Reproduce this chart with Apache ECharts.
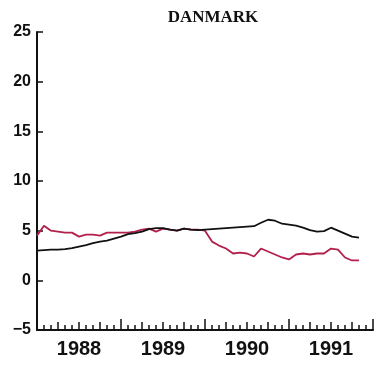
<!DOCTYPE html>
<html>
<head>
<meta charset="utf-8">
<script src="https://cdn.jsdelivr.net/npm/echarts@6/dist/echarts.min.js"></script>
<style>
html, body { margin: 0; padding: 0; background: #fff; }
#chart { width: 376px; height: 367px; }
</style>
</head>
<body>
<div id="chart"></div>
<script>
// Monthly series, January 1988 = month 0
const startYear = 1988;
const yearLabels = ['1988', '1989', '1990', '1991'];
const yTicks = [-5, 0, 5, 10, 15, 20, 25];

const redSeries = [
  4.5, 5.5, 5.0, 4.9, 4.8, 4.8, 4.4, 4.6, 4.6, 4.5, 4.8, 4.8,
  4.8, 4.8, 4.9, 5.1, 5.2, 4.9, 5.2, 5.1, 5.0, 5.2, 5.1, 5.1,
  5.0, 3.9, 3.5, 3.2, 2.7, 2.8, 2.7, 2.4, 3.2, 2.9, 2.6, 2.3,
  2.1, 2.6, 2.7, 2.6, 2.7, 2.7, 3.2, 3.1, 2.3, 2.0, 2.0
];
const blackSeries = [
  3.0, 3.05, 3.1, 3.1, 3.15, 3.25, 3.4, 3.55, 3.75, 3.9, 4.0, 4.2,
  4.4, 4.65, 4.75, 4.9, 5.15, 5.25, 5.25, 5.1, 5.0, 5.2, 5.1, 5.05,
  5.1, 5.15, 5.2, 5.25, 5.3, 5.35, 5.4, 5.45, 5.8, 6.1, 6.0, 5.7,
  5.6, 5.5, 5.3, 5.05, 4.9, 4.95, 5.3, 5.0, 4.7, 4.4, 4.3
];

const toPairs = arr => arr.map((v, i) => [i, v]);
const xMax = 48;

const baseX = {
  type: 'value', min: 0, max: xMax, position: 'bottom',
  axisLine: { show: false, onZero: false }, splitLine: { show: false },
  axisLabel: { show: false }, axisTick: { show: false }
};

const chart = echarts.init(document.getElementById('chart'), null, { renderer: 'canvas' });
chart.setOption({
  backgroundColor: '#ffffff',
  animation: false,
  title: {
    text: 'DANMARK', left: 208, top: 4, textAlign: 'center',
    textStyle: { fontFamily: 'Liberation Serif', fontWeight: 'bold', fontSize: 17, color: '#111' }
  },
  grid: { left: 37, right: -3, top: 32, bottom: 37 },
  xAxis: [
    // year ticks (tall), monthly minor ticks and the axis line
    Object.assign({}, baseX, {
      interval: 12,
      axisLine: { show: true, onZero: false, lineStyle: { color: '#111', width: 2 } },
      axisTick: { show: true, inside: true, length: 11, lineStyle: { color: '#111', width: 1.5 } },
      minorTick: { show: true, splitNumber: 12, length: 5, lineStyle: { color: '#111', width: 1.5 } }
    }),
    // quarter ticks (medium)
    Object.assign({}, baseX, {
      interval: 3,
      axisTick: { show: true, inside: true, length: 8, lineStyle: { color: '#111', width: 1.5 } }
    }),
    // year labels at mid-year
    Object.assign({}, baseX, {
      interval: 6,
      axisLabel: {
        show: true, margin: 9, fontFamily: 'Liberation Sans', fontWeight: 'bold', fontSize: 20, color: '#111',
        formatter: v => (v % 12 === 6 ? yearLabels[Math.floor(v / 12)] || '' : '')
      }
    })
  ],
  yAxis: {
    type: 'value', min: yTicks[0], max: yTicks[yTicks.length - 1], interval: 5,
    axisLine: { show: true, lineStyle: { color: '#111', width: 2 } },
    axisTick: { show: true, inside: true, length: 6, lineStyle: { color: '#111', width: 1.5 } },
    splitLine: { show: false },
    axisLabel: {
      margin: 6, fontFamily: 'Liberation Sans', fontWeight: 'bold', fontSize: 16, color: '#111',
      formatter: v => (v < 0 ? '\u2212' + Math.abs(v) : String(v))
    }
  },
  series: [
    {
      type: 'line', xAxisIndex: 0, data: toPairs(redSeries), symbol: 'none',
      lineStyle: { color: '#b3204c', width: 1.8 }
    },
    {
      type: 'line', xAxisIndex: 0, data: toPairs(blackSeries), symbol: 'none',
      lineStyle: { color: '#111111', width: 1.8 }
    }
  ]
});
</script>
</body>
</html>
